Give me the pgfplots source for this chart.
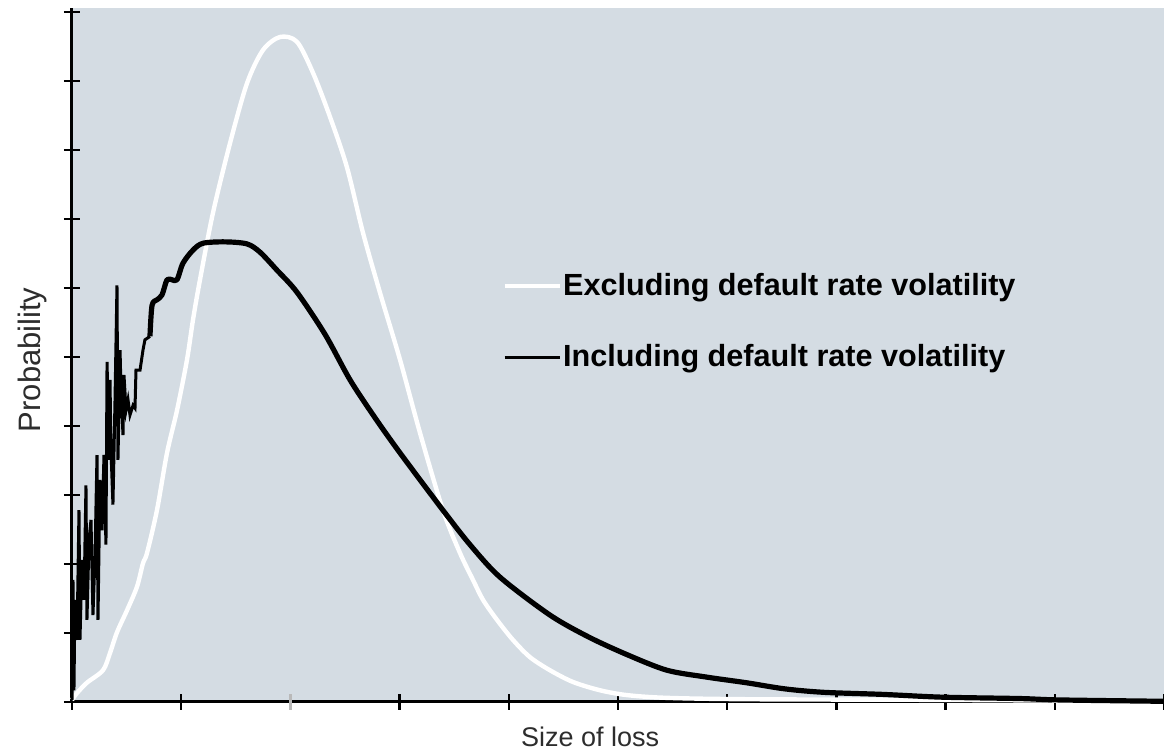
\documentclass[border=0pt]{standalone}
\usepackage{fontspec}
\setmainfont{Liberation Sans}
\usepackage{pgfplots}
\pgfplotsset{compat=1.18}
\definecolor{bgc}{RGB}{212,220,227}
\definecolor{lab}{RGB}{45,45,45}

\begin{document}
\begin{tikzpicture}
\begin{axis}[
  at={(0,0)}, anchor=south west,
  width=546pt, height=347pt, scale only axis,
  xmin=0, xmax=10, ymin=0, ymax=10.06,
  axis x line=bottom, axis y line=left,
  axis line style={-, line width=1.5pt, black},
  axis background/.style={fill=bgc},
  xtick={0,1,3,4,5,6,7,8,9,10},
  extra x ticks={2},
  extra x tick style={major tick style={gray!55, line width=1.5pt}},
  extra x tick labels={},
  ytick={0,1,...,10},
  xticklabels={}, yticklabels={},
  tick align=center,
  major tick length=8pt,
  tick style={black, line width=1.2pt},
  clip=false,
  legend style={draw=none, fill=none, at={(0.3947,0.548)}, anchor=west,
    inner sep=0pt, outer sep=0pt, row sep=23pt,
    font=\fontsize{15.3}{18}\selectfont\bfseries,
    nodes={inner sep=0pt, outer sep=0pt, text=black}},
  legend cell align=left,
  legend image code/.code={\draw[#1, line width=1.6pt] (0pt,0pt) -- (27.5pt,0pt);},
  /tikz/every odd column/.append style={column sep=1pt},
]
% Excluding default rate volatility (white)
\addplot[white, line width=2.2pt, line join=round, smooth, tension=0.5] coordinates {
(0.000,0.03) (0.046,0.13) (0.137,0.28) (0.284,0.46) (0.348,0.71) (0.412,1.01)
(0.504,1.33) (0.595,1.67) (0.650,2.01) (0.687,2.16)
(0.778,2.78) (0.870,3.61) (0.962,4.23) (1.053,4.96) (1.108,5.54)
(1.172,6.12) (1.291,7.09) (1.447,8.10) (1.603,8.97) (1.749,9.45) (1.905,9.64)
(2.060,9.57) (2.207,9.12) (2.363,8.48) (2.518,7.75) (2.665,6.80) (2.821,5.93)
(3.004,4.96) (3.187,3.90) (3.397,2.78) (3.553,2.16) (3.672,1.77) (3.764,1.48)
(3.892,1.19) (4.038,0.90) (4.194,0.65) (4.377,0.46) (4.588,0.29) (4.835,0.17)
(5.082,0.10) (5.449,0.06) (6.209,0.04) (8.040,0.03) (10.000,0.01)
};
\addlegendentry{Excluding default rate volatility}
% Including default rate volatility (black), smooth part
\addplot[black, line width=2.6pt, line join=round, smooth, tension=0.5] coordinates {
(0.714,5.30) (0.733,5.75) (0.778,5.83) (0.824,5.90) (0.870,6.12) (0.916,6.12)
(0.962,6.12) (1.016,6.36) (1.108,6.55) (1.200,6.65) (1.401,6.67) (1.603,6.64)
(1.722,6.52) (1.877,6.26) (2.060,5.94) (2.317,5.33) (2.546,4.67) (2.775,4.12)
(3.004,3.61) (3.397,2.78) (3.645,2.28) (3.919,1.81) (4.377,1.26) (4.734,0.94)
(5.092,0.68) (5.449,0.46) (5.815,0.36) (6.172,0.28) (6.529,0.19) (6.886,0.14)
(7.427,0.11) (7.967,0.07) (8.681,0.05) (9.038,0.03) (10.000,0.01)
};
\addlegendentry{Including default rate volatility}
% Including default rate volatility, jagged start
\addplot[black, line width=1.5pt, forget plot] coordinates {
(0.000,0.03) (0.009,1.77) (0.018,0.17) (0.027,1.48) (0.046,0.90) (0.064,2.78)
(0.073,0.90) (0.092,2.06) (0.110,1.48) (0.128,3.14) (0.137,1.19) (0.156,2.35)
(0.174,2.64) (0.192,1.26) (0.211,2.13) (0.229,3.58) (0.238,1.19) (0.256,3.22)
(0.275,2.49) (0.293,3.58) (0.311,2.28) (0.321,4.93) (0.339,3.51) (0.348,4.67)
(0.357,3.65) (0.375,2.86) (0.394,4.38) (0.412,6.04) (0.421,3.51) (0.440,5.10)
(0.449,4.52) (0.467,3.87) (0.476,4.74) (0.495,4.23) (0.513,4.38) (0.531,4.16)
(0.559,4.30) (0.577,4.26) (0.586,4.81) (0.623,4.81) (0.650,5.10) (0.668,5.25)
(0.714,5.30)
};
\node[rotate=90, font=\fontsize{15.5}{18}\selectfont, text=lab] at (rel axis cs:-0.0366,0.493) {Probability};
\node[font=\fontsize{13.5}{16}\selectfont, text=lab] at (rel axis cs:0.4744,-0.0504) {Size of loss};
\end{axis}
\pgfresetboundingbox
\path (-36pt,-24pt) rectangle (546pt,351pt);
\end{tikzpicture}
\end{document}
